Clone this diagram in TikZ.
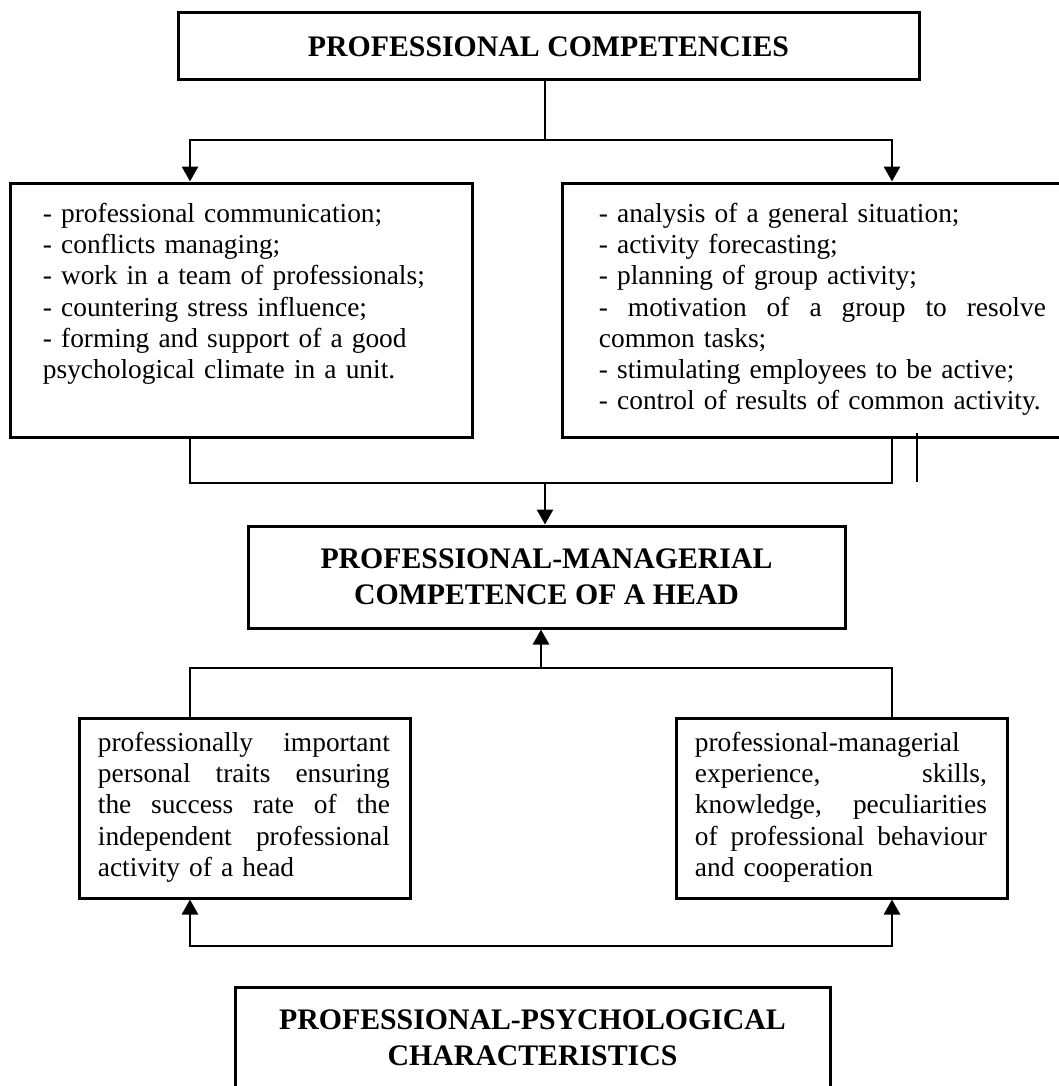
\documentclass[tikz,border=0pt]{standalone}
\usepackage{fontspec}
\setmainfont{Liberation Serif}
\usetikzlibrary{arrows.meta}

\newcommand{\spreadline}[1]{\makebox[\hsize][s]{\spaceskip=0pt\xspaceskip=0pt #1}}

\begin{document}
\begin{tikzpicture}[x=0.5pt, y=-0.5pt, >={Triangle[width=8pt,length=7.5pt]},
    box/.style={draw, line width=1.5pt, inner sep=0pt},
    heading/.style={font=\fontsize{14.9}{18}\selectfont\bfseries, align=center},
    list/.style={font=\fontsize{13.7}{15.65}\selectfont, align=left, inner sep=0pt, anchor=north west},
    link/.style={line width=1.4pt}]

  \useasboundingbox (0,0) rectangle (1059,1086);

  % Competenties
  \node[box, heading, minimum width=370.5pt, minimum height=33.5pt] (comp) at (548.5,46.5) {PROFESSIONAL COMPETENCIES};

  % Linker blok
  \node[box, minimum width=231pt, minimum height=127pt] (lbox) at (241,310) {};
  \node[list, text width=215pt] (ltext) at ([xshift=17pt, yshift=-10.5pt]lbox.north west)
    {- professional communication;\\
     - conflicts managing;\\
     - work in a team of professionals;\\
     - countering stress influence;\\
     - forming and support of a good\\
     psychological climate in a unit.};

  % Rechter blok
  \node[box, minimum width=257pt, minimum height=127pt] (rbox) at (819,310) {};
  \node[list, text width=223.5pt] (rtext) at ([xshift=19pt, yshift=-10.5pt]rbox.north west)
    {- analysis of a general situation;\\
     - activity forecasting;\\
     - planning of group activity;\\
     \spreadline{- motivation of a group to resolve}\\
     common tasks;\\
     - stimulating employees to be active;\\
     - control of results of common activity.};

  % Leidinggevende competentie
  \node[box, heading, minimum width=298.5pt, minimum height=51pt] (mgr) at (546.5,577) {PROFESSIONAL-MANAGERIAL\\COMPETENCE OF A HEAD};

  % Eigenschappen
  \node[box, minimum width=165.5pt, minimum height=90pt] (traits) at (244.5,808) {};
  \node[list, text width=146pt] (traitstext) at ([xshift=10pt, yshift=-7.5pt]traits.north west)
    {\spreadline{professionally important}\\
     \spreadline{personal traits ensuring}\\
     \spreadline{the success rate of the}\\
     \spreadline{independent professional}\\
     activity of a head};

  % Ervaring
  \node[box, minimum width=165.5pt, minimum height=90pt] (exp) at (841.5,808) {};
  \node[list, text width=146pt] (exptext) at ([xshift=10pt, yshift=-7.5pt]exp.north west)
    {professional-managerial\\
     \spreadline{experience, skills,}\\
     \spreadline{knowledge, peculiarities}\\
     \spreadline{of professional behaviour}\\
     and cooperation};

  % Psychologische kenmerken
  \node[box, heading, minimum width=297.5pt, minimum height=50.5pt] (psych) at (532.5,1037.5) {PROFESSIONAL-PSYCHOLOGICAL\\CHARACTERISTICS};

  % hulppunten
  \coordinate (colL) at (190,0);
  \coordinate (colR) at (892,0);
  \coordinate (split) at (545,140);
  \coordinate (join) at (545,483);
  \coordinate (merge) at (541,668);
  \coordinate (base) at (545,946);

  % verbindingen
  \draw[link] (comp.south -| split) -- (split);
  \draw[link, ->] (split) -| (colL |- lbox.north);
  \draw[link, ->] (split) -| (colR |- rbox.north);

  \draw[link] (colL |- lbox.south) |- (join);
  \draw[link] (colR |- rbox.south) |- (join);
  \draw[link, ->] (join) -- (mgr.north -| join);

  \draw[link, ->] (merge) -- (mgr.south -| merge);
  \draw[link] (colL |- traits.north) |- (merge);
  \draw[link] (colR |- exp.north) |- (merge);

  \draw[link, <->] (colL |- traits.south) |- (base) -| (colR |- exp.south);

  % losse streep
  \coordinate (tickA) at (917,433);
  \coordinate (tickB) at (917,482);
  \draw[line width=1pt] (tickA) -- (tickB);

\end{tikzpicture}
\end{document}
